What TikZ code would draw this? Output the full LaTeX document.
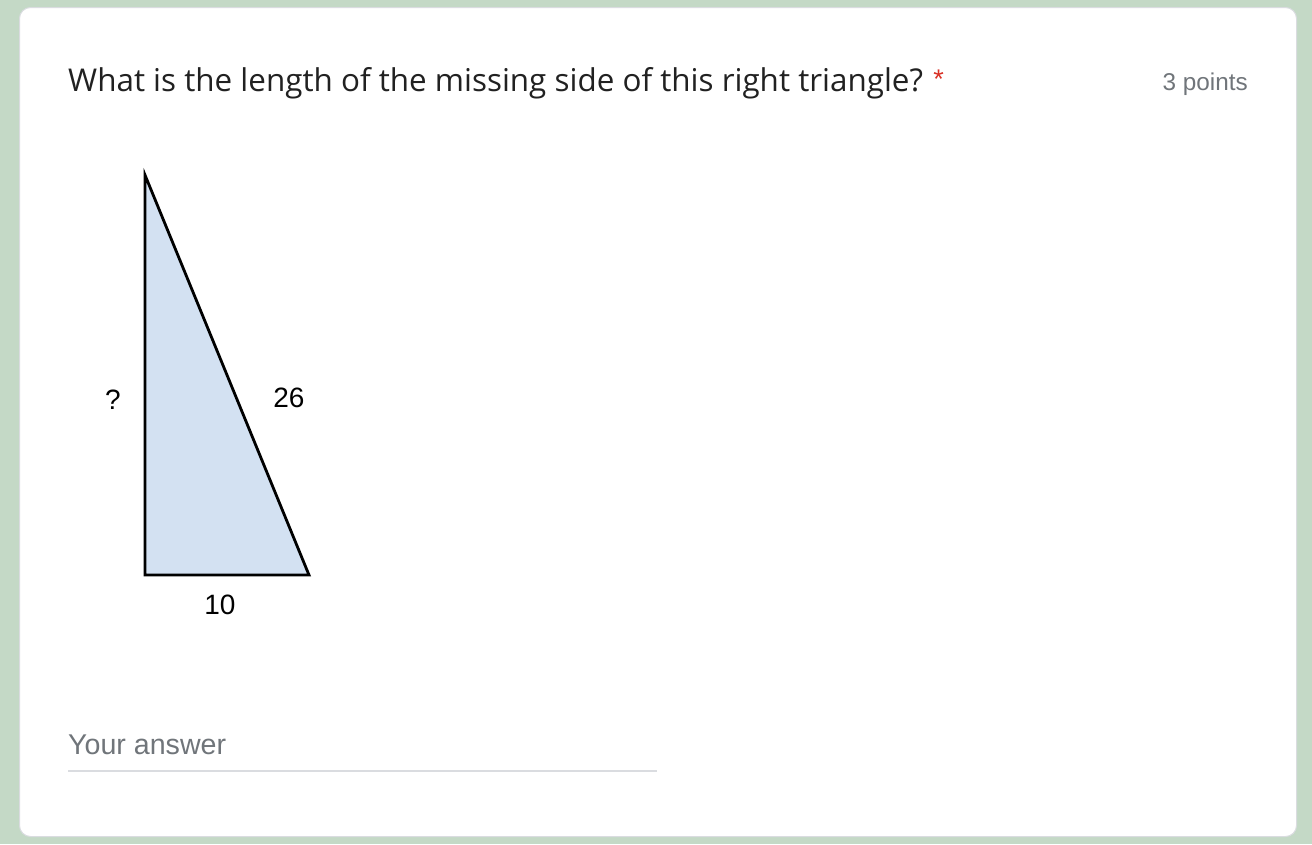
\documentclass[tikz,border=0pt]{standalone}
\usepackage{fontspec}
\setmainfont{Liberation Sans}
\newfontfamily\titlefont{Open Sans}
\newfontfamily\uifont{Liberation Sans}
\definecolor{bggreen}{HTML}{C4D9C6}
\definecolor{cardline}{HTML}{DADCE0}
\definecolor{greytxt}{HTML}{70757A}
\definecolor{reqred}{HTML}{D93025}
\definecolor{trifill}{HTML}{D3E1F2}
\tikzset{
  lbl/.style={inner sep=0pt, font=\fontsize{28}{30}\selectfont\uifont},
  txt/.style={inner sep=0pt, anchor=base west},
}
\begin{document}
\begin{tikzpicture}[x=1pt,y=-1pt]
\useasboundingbox (0,0) rectangle (1312,844);
\fill[bggreen] (0,0) rectangle (1312,844);
\draw[cardline, fill=white, line width=1pt, rounded corners=11pt] (19.5,7.5) rectangle (1296.5,836.5);
\node[txt, font=\fontsize{31.4}{36}\selectfont\titlefont, text=black!87] (title) at (68,91) {What is the length of the missing side of this right triangle?};
\node[txt, anchor=base west, font=\fontsize{27}{30}\selectfont\uifont, text=reqred] (star) at ([xshift=10pt,yshift=3pt]title.base east) {*};
\node[txt, anchor=base east, font=\fontsize{24.3}{28}\selectfont\uifont, text=greytxt] (pts) at (1248,90) {3 points};
\coordinate (A) at (145,175);
\coordinate (B) at (145,575);
\coordinate (C) at (309,575);
\draw[fill=trifill, line width=2.8pt, line join=miter] (A) -- (B) -- (C) -- cycle;
\node[lbl] (q) at (113,400) {?};
\node[lbl] (h) at (289,398) {26};
\node[lbl] (b) at (220,605) {10};
\node[txt, font=\fontsize{28.6}{32}\selectfont\uifont, text=greytxt] (ans) at (68,754) {Your answer};
\coordinate (L1) at (68,771);
\coordinate (L2) at (657,771);
\draw[cardline, line width=2pt] (L1) -- (L2);
\end{tikzpicture}
\end{document}
